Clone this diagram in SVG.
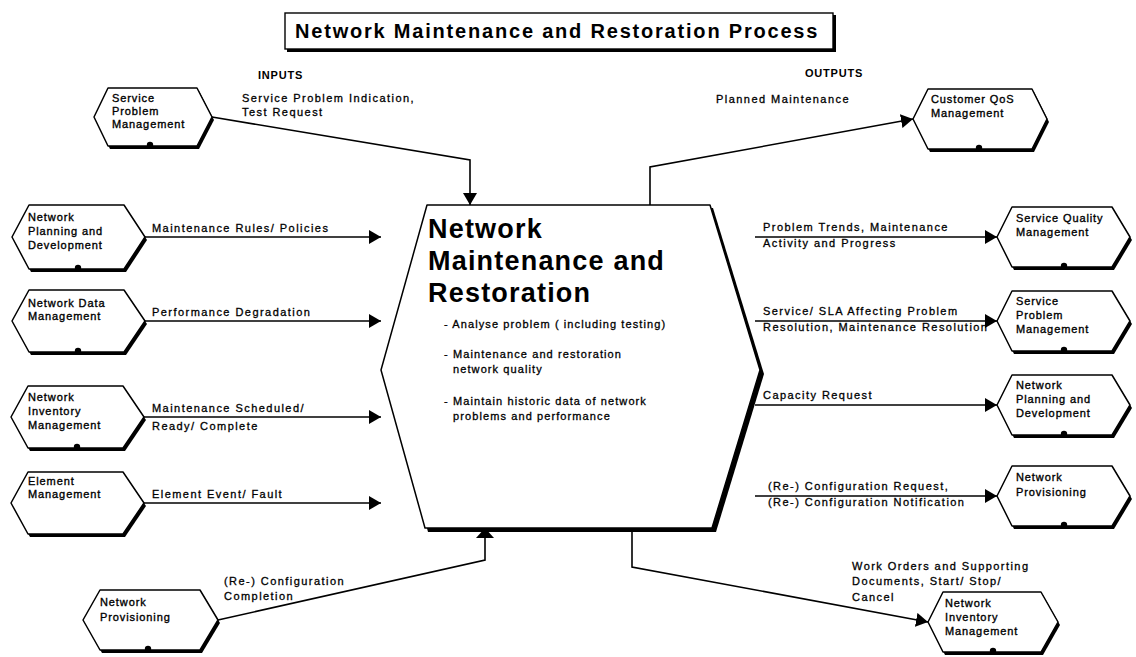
<svg xmlns="http://www.w3.org/2000/svg" width="1136" height="657" viewBox="0 0 1136 657">
  <defs>
    <marker id="arrow" viewBox="0 0 12 14" refX="12" refY="7" markerWidth="12" markerHeight="14" markerUnits="userSpaceOnUse" orient="auto">
      <path d="M0,0 L12,7 L0,14 z" fill="#000"/>
    </marker>
    <style>
      text { font-family: "Liberation Sans", Arial, sans-serif; fill: #000; }
      .title { font-size: 20px; font-weight: bold; letter-spacing: 1.8px; }
      .head { font-size: 11px; font-weight: bold; letter-spacing: 0.8px; }
      .node { font-size: 11px; letter-spacing: 0.9px; stroke: #000; stroke-width: 0.35px; }
      .lbl { font-size: 11px; letter-spacing: 1.45px; stroke: #000; stroke-width: 0.3px; }
      .big { font-size: 27px; font-weight: bold; letter-spacing: 1.2px; }
      .bul { font-size: 11px; letter-spacing: 1.1px; stroke: #000; stroke-width: 0.3px; }
      .hex { fill: #fff; stroke: #000; stroke-width: 1.5; stroke-linejoin: round; }
      .shadow { fill: #000; }
      .dot { fill: #000; }
      .conn { fill: none; stroke: #000; stroke-width: 1.6; }
    </style>
  </defs>

  <rect width="1136" height="657" fill="#fff"/>

  <!-- title -->
  <g id="title">
    <rect x="287" y="15" width="549" height="37" class="shadow"/>
    <rect x="285" y="13" width="548" height="36" fill="#fff" stroke="#000" stroke-width="1.4"/>
    <text x="295" y="38" class="title">Network Maintenance and Restoration Process</text>
  </g>

  <text x="258" y="79" class="head">INPUTS</text>
  <text x="805" y="77" class="head">OUTPUTS</text>

  <!-- connectors -->
  <g id="connectors">
    <polyline class="conn" points="212,117 470,160 470,205" marker-end="url(#arrow)"/>
    <line class="conn" x1="145" y1="237" x2="381" y2="237" marker-end="url(#arrow)"/>
    <line class="conn" x1="145" y1="321" x2="381" y2="321" marker-end="url(#arrow)"/>
    <line class="conn" x1="144" y1="417" x2="381" y2="417" marker-end="url(#arrow)"/>
    <line class="conn" x1="144" y1="503" x2="381" y2="503" marker-end="url(#arrow)"/>
    <polyline class="conn" points="218,620 485,560 485,537"/>
    <polygon points="476,538 494,538 485,528" fill="#000"/>

    <polyline class="conn" points="650,205 650,167 913,119" marker-end="url(#arrow)"/>
    <line class="conn" x1="755" y1="237" x2="997" y2="237" marker-end="url(#arrow)"/>
    <line class="conn" x1="755" y1="321" x2="997" y2="321" marker-end="url(#arrow)"/>
    <line class="conn" x1="755" y1="405" x2="997" y2="405" marker-end="url(#arrow)"/>
    <line class="conn" x1="755" y1="496" x2="997" y2="496" marker-end="url(#arrow)"/>
    <polyline class="conn" points="632,530 632,567 928,622" marker-end="url(#arrow)"/>
  </g>

  <!-- connector labels -->
  <g id="labels">
    <text x="242" y="102" class="lbl">Service Problem Indication,</text>
    <text x="242" y="116" class="lbl">Test Request</text>
    <text x="152" y="232" class="lbl">Maintenance Rules/ Policies</text>
    <text x="152" y="316" class="lbl">Performance Degradation</text>
    <text x="152" y="412" class="lbl">Maintenance Scheduled/</text>
    <text x="152" y="430" class="lbl">Ready/ Complete</text>
    <text x="152" y="498" class="lbl">Element Event/ Fault</text>
    <text x="224" y="585" class="lbl">(Re-) Configuration</text>
    <text x="224" y="600" class="lbl">Completion</text>

    <text x="716" y="103" class="lbl">Planned Maintenance</text>
    <text x="763" y="231" class="lbl">Problem Trends, Maintenance</text>
    <text x="763" y="247" class="lbl">Activity and Progress</text>
    <text x="763" y="315" class="lbl">Service/ SLA Affecting Problem</text>
    <text x="763" y="331" class="lbl">Resolution, Maintenance Resolution</text>
    <text x="763" y="399" class="lbl">Capacity Request</text>
    <text x="768" y="490" class="lbl">(Re-) Configuration Request,</text>
    <text x="768" y="506" class="lbl">(Re-) Configuration Notification</text>
    <text x="852" y="570" class="lbl">Work Orders and Supporting</text>
    <text x="852" y="585" class="lbl">Documents, Start/ Stop/</text>
    <text x="852" y="601" class="lbl">Cancel</text>
  </g>

  <!-- central process -->
  <g id="process">
    <polygon class="shadow" points="430,208 713,208 764,374 716,532 428,532 385,374"/>
    <polygon class="hex" points="427,205 710,205 760,370 712,528 425,528 381,370"/>
    <text x="428" y="238" class="big">Network</text>
    <text x="428" y="270" class="big">Maintenance and</text>
    <text x="428" y="302" class="big">Restoration</text>
    <text x="444" y="328" class="bul">-  Analyse problem ( including testing)</text>
    <text x="444" y="358" class="bul">-  Maintenance and restoration</text>
    <text x="453" y="373" class="bul">network quality</text>
    <text x="444" y="405" class="bul">-  Maintain historic data of network</text>
    <text x="453" y="420" class="bul">problems and performance</text>
  </g>

  <!-- input side nodes -->
  <g id="in-spm">
    <polygon class="shadow" points="110,91 199,91 214,120 199,149 110,149 96,120"/>
    <polygon class="hex" points="108,88 197,88 212,117 197,146 108,146 94,117"/>
    <circle class="dot" cx="150" cy="145" r="3.2"/>
    <text x="112" y="102" class="node">Service</text>
    <text x="112" y="115" class="node">Problem</text>
    <text x="112" y="128" class="node">Management</text>
  </g>
  <g id="in-npd">
    <polygon class="shadow" points="31,208 126,208 147,240 126,272 31,272 14,240"/>
    <polygon class="hex" points="29,205 124,205 145,237 124,269 29,269 12,237"/>
    <circle class="dot" cx="78" cy="268" r="3.2"/>
    <text x="28" y="221" class="node">Network</text>
    <text x="28" y="235" class="node">Planning and</text>
    <text x="28" y="249" class="node">Development</text>
  </g>
  <g id="in-ndm">
    <polygon class="shadow" points="31,293 126,293 147,324 126,355 31,355 14,324"/>
    <polygon class="hex" points="29,290 124,290 145,321 124,352 29,352 12,321"/>
    <circle class="dot" cx="78" cy="351" r="3.2"/>
    <text x="28" y="307" class="node">Network Data</text>
    <text x="28" y="320" class="node">Management</text>
  </g>
  <g id="in-nim">
    <polygon class="shadow" points="30,389 125,389 146,420 125,451 30,451 13,420"/>
    <polygon class="hex" points="28,386 123,386 144,417 123,448 28,448 11,417"/>
    <circle class="dot" cx="77" cy="447" r="3.2"/>
    <text x="28" y="401" class="node">Network</text>
    <text x="28" y="415" class="node">Inventory</text>
    <text x="28" y="429" class="node">Management</text>
  </g>
  <g id="in-em">
    <polygon class="shadow" points="30,475 125,475 146,506 125,537 30,537 13,506"/>
    <polygon class="hex" points="28,472 123,472 144,503 123,534 28,534 11,503"/>
    <text x="28" y="485" class="node">Element</text>
    <text x="28" y="498" class="node">Management</text>
  </g>
  <g id="in-np">
    <polygon class="shadow" points="102,593 202,593 220,623 202,653 102,653 85,623"/>
    <polygon class="hex" points="100,590 200,590 218,620 200,650 100,650 83,620"/>
    <circle class="dot" cx="148" cy="649" r="3.2"/>
    <text x="100" y="606" class="node">Network</text>
    <text x="100" y="621" class="node">Provisioning</text>
  </g>

  <!-- output side nodes -->
  <g id="out-cqm">
    <polygon class="shadow" points="930,92 1034,92 1049,122 1034,152 930,152 915,122"/>
    <polygon class="hex" points="928,89 1032,89 1047,119 1032,149 928,149 913,119"/>
    <circle class="dot" cx="979" cy="148" r="3.2"/>
    <text x="931" y="103" class="node">Customer QoS</text>
    <text x="931" y="117" class="node">Management</text>
  </g>
  <g id="out-sqm">
    <polygon class="shadow" points="1014,210 1114,210 1132,240 1114,270 1014,270 999,240"/>
    <polygon class="hex" points="1012,207 1112,207 1130,237 1112,267 1012,267 997,237"/>
    <circle class="dot" cx="1064" cy="266" r="3.2"/>
    <text x="1016" y="222" class="node">Service Quality</text>
    <text x="1016" y="236" class="node">Management</text>
  </g>
  <g id="out-spm">
    <polygon class="shadow" points="1014,294 1114,294 1132,324 1114,354 1014,354 999,324"/>
    <polygon class="hex" points="1012,291 1112,291 1130,321 1112,351 1012,351 997,321"/>
    <circle class="dot" cx="1064" cy="350" r="3.2"/>
    <text x="1016" y="305" class="node">Service</text>
    <text x="1016" y="319" class="node">Problem</text>
    <text x="1016" y="333" class="node">Management</text>
  </g>
  <g id="out-npd">
    <polygon class="shadow" points="1014,378 1114,378 1132,408 1114,438 1014,438 999,408"/>
    <polygon class="hex" points="1012,375 1112,375 1130,405 1112,435 1012,435 997,405"/>
    <circle class="dot" cx="1064" cy="434" r="3.2"/>
    <text x="1016" y="389" class="node">Network</text>
    <text x="1016" y="403" class="node">Planning and</text>
    <text x="1016" y="417" class="node">Development</text>
  </g>
  <g id="out-np">
    <polygon class="shadow" points="1014,469 1114,469 1132,499 1114,529 1014,529 999,499"/>
    <polygon class="hex" points="1012,466 1112,466 1130,496 1112,526 1012,526 997,496"/>
    <circle class="dot" cx="1064" cy="525" r="3.2"/>
    <text x="1016" y="481" class="node">Network</text>
    <text x="1016" y="496" class="node">Provisioning</text>
  </g>
  <g id="out-nim">
    <polygon class="shadow" points="945,595 1043,595 1060,625 1043,655 945,655 930,625"/>
    <polygon class="hex" points="943,592 1041,592 1058,622 1041,652 943,652 928,622"/>
    <circle class="dot" cx="993" cy="651" r="3.2"/>
    <text x="945" y="607" class="node">Network</text>
    <text x="945" y="621" class="node">Inventory</text>
    <text x="945" y="635" class="node">Management</text>
  </g>
</svg>
